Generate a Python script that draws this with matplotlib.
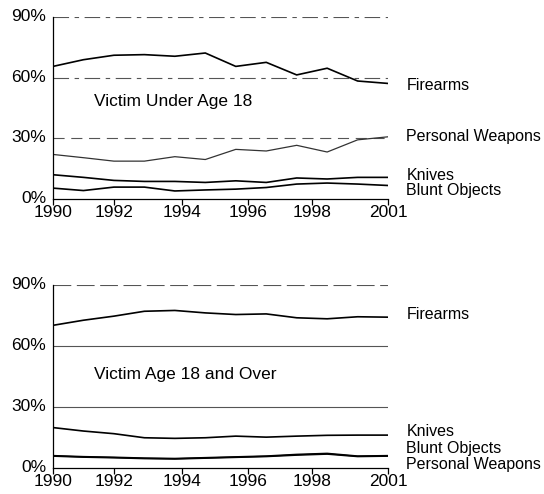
import matplotlib.pyplot as plt
from matplotlib.transforms import ScaledTranslation

plt.rcParams['font.family'] = ['Liberation Sans', 'DejaVu Sans']

years = list(range(1990, 2002))

# percent of homicides by weapon, victims under 18
young_firearms = [65.5, 68.8, 71.0, 71.3, 70.5, 72.1, 65.5, 67.5, 61.3, 64.6, 58.3, 57.1]
young_personal = [22.1, 20.5, 18.8, 18.8, 21.0, 19.6, 24.6, 23.8, 26.6, 23.3, 29.3, 30.8]
young_knives = [12.1, 10.8, 9.3, 8.8, 8.8, 8.3, 9.1, 8.3, 10.5, 10.0, 10.8, 10.8]
young_blunt = [5.5, 4.3, 6.0, 6.0, 4.1, 4.6, 5.0, 5.8, 7.5, 8.0, 7.5, 6.8]

# victims 18 and over
adult_firearms = [70.2, 72.7, 74.7, 77.1, 77.5, 76.3, 75.5, 75.8, 73.9, 73.4, 74.4, 74.2]
adult_knives = [20.0, 18.3, 17.0, 15.0, 14.7, 15.0, 15.8, 15.3, 15.8, 16.2, 16.3, 16.3]
adult_blunt = [6.2, 5.7, 5.4, 5.0, 4.8, 5.2, 5.6, 6.0, 6.8, 7.3, 6.0, 6.2]
adult_personal = [6.0, 5.5, 5.2, 4.8, 4.6, 5.0, 5.4, 5.8, 6.5, 7.0, 5.8, 6.0]

tick_pos = [1990, 1992, 1994.25, 1996.4, 1998.5, 2001]
tick_labels = ['1990', '1992', '1994', '1996', '1998', '2001']
yticks = [0, 30, 60, 90]
ytick_labels = ['0%', '30%', '60%', '90%']

fig = plt.figure(figsize=(5.44, 4.94), dpi=100)
ax1 = fig.add_axes([0.0974, 0.5966, 0.616, 0.3696])
ax2 = fig.add_axes([0.0974, 0.0520, 0.616, 0.3711])


def setup(ax, grid_styles):
    ax.set_xlim(1990, 2001)
    ax.set_ylim(0, 90)
    for s in ['top', 'right']:
        ax.spines[s].set_visible(False)
    ax.spines['left'].set_linewidth(0.9)
    ax.spines['bottom'].set_linewidth(0.9)
    ax.set_xticks(tick_pos)
    ax.set_xticklabels(tick_labels, fontsize=12.5)
    ax.set_yticks(yticks)
    ax.set_yticklabels(ytick_labels, fontsize=12.5)
    ax.tick_params(axis='y', length=0, pad=5)
    ax.tick_params(axis='x', length=4, width=0.9, direction='out', pad=0)
    # nudge the percent labels up a little
    for lab in ax.get_yticklabels():
        lab.set_transform(lab.get_transform() + ScaledTranslation(0, 2 / 100, fig.dpi_scale_trans))
    for val, ls in zip([30, 60, 90], grid_styles):
        ax.axhline(val, color='#555555', lw=0.8, ls=ls, zorder=1)


dashdot = (0, (14, 5, 4, 5))
setup(ax1, [(0, (10, 6)), dashdot, dashdot])
setup(ax2, ['-', '-', (0, (16, 5))])

lw = 1.2
ax1.plot(years, young_firearms, color='black', lw=lw)
ax1.plot(years, young_personal, color='#333333', lw=0.9)
ax1.plot(years, young_knives, color='black', lw=lw)
ax1.plot(years, young_blunt, color='black', lw=lw)

ax2.plot(years, adult_firearms, color='black', lw=lw)
ax2.plot(years, adult_knives, color='black', lw=lw)
ax2.plot(years, adult_blunt, color='black', lw=lw)
ax2.plot(years, adult_personal, color='black', lw=lw)

ax1.text(1993.95, 48, 'Victim Under Age 18', fontsize=12.5, ha='center', va='center')
ax2.text(1994.35, 46, 'Victim Age 18 and Over', fontsize=12.5, ha='center', va='center')

young_names = ['Firearms', 'Personal Weapons', 'Knives', 'Blunt Objects']
young_label_y = [56, 31, 11.8, 4.5]
adult_names = ['Firearms', 'Knives', 'Blunt Objects', 'Personal Weapons']
adult_label_y = [75.5, 18.3, 9.6, 2.0]

for name, y in zip(young_names, young_label_y):
    ax1.text(2001.6, y, name, fontsize=11.5, ha='left', va='center', clip_on=False)
for name, y in zip(adult_names, adult_label_y):
    ax2.text(2001.6, y, name, fontsize=11.5, ha='left', va='center', clip_on=False)

fig.savefig('out.png', dpi=100)
